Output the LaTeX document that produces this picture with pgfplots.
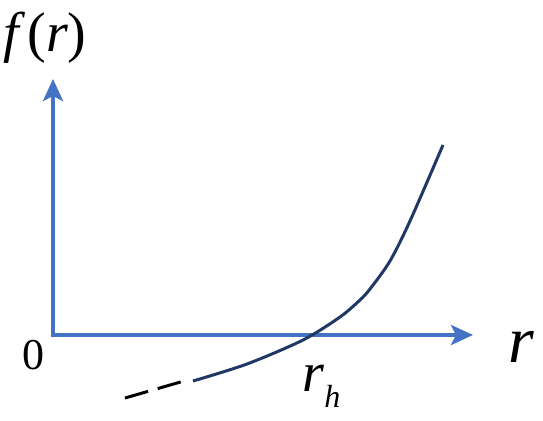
\documentclass[border=0pt]{standalone}
\usepackage{fontspec}
\setmainfont{Liberation Serif}[
    ItalicFont={Liberation Serif Italic},
    BoldItalicFont={Liberation Serif Bold Italic}]
\usepackage{pgfplots}
\pgfplotsset{compat=1.18}
\usetikzlibrary{arrows.meta}
\definecolor{axblue}{HTML}{4472C4}
\definecolor{curvenavy}{HTML}{1F3864}
\begin{document}
\begin{tikzpicture}
\begin{axis}[
    hide axis,
    scale only axis,
    width=271.5pt, height=210pt,
    xmin=0, xmax=543, ymin=0, ymax=420,
    clip=false,
]
% axes with arrow heads
\addplot[axblue, line width=2pt, line join=miter,
    {Stealth[length=11pt,width=10pt,inset=2.5pt]}-{Stealth[length=11pt,width=10pt,inset=2.5pt]}]
    coordinates {(53,341)(53,85)(473,85)};

% dashed continuation
\addplot[black, line width=1.5pt, dash pattern=on 12pt off 5pt]
    coordinates {(125,22)(184,39)};

% f(r) curve
\addplot[curvenavy, line width=1.5pt, smooth]
    coordinates {(193,39)(247,56)(303,80)(340,103)(360,120)
                 (370,131)(390,159)(410,199)(443,275)};

\node[font=\fontsize{28}{30}\selectfont, inner sep=0pt] at (axis cs:45,382)
    {\textit{f}\kern1pt(\textit{r})};
\node[font=\fontsize{22}{24}\selectfont, inner sep=0pt] at (axis cs:34,65) {0};
\node[font=\fontsize{33}{36}\selectfont, anchor=base, inner sep=0pt] at (axis cs:521,58) {\textit{r}};
\node[font=\fontsize{28}{30}\selectfont, anchor=base west, inner sep=0pt]
    at (axis cs:302,29) {\textit{r}\raisebox{-8pt}{\fontsize{16}{17}\selectfont\textit{h}}};
\end{axis}
\pgfresetboundingbox
\path (current axis.south west) rectangle (current axis.north east);
\end{tikzpicture}
\end{document}
